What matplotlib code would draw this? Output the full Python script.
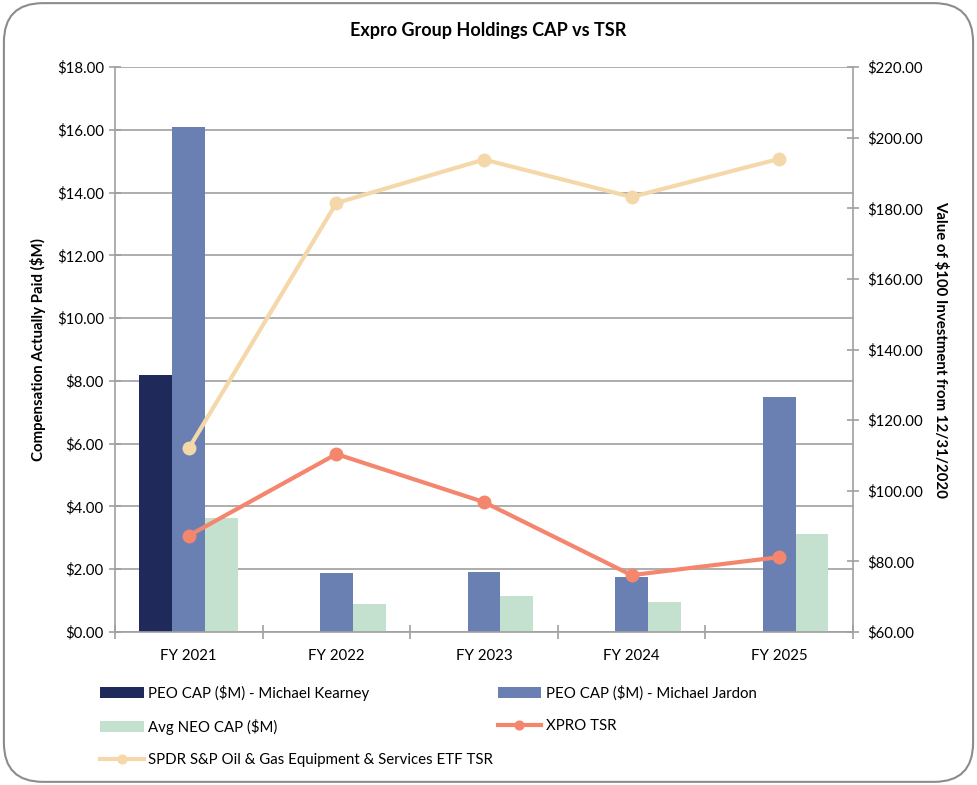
import numpy as np
import matplotlib
matplotlib.use('Agg')
import matplotlib.pyplot as plt
from matplotlib.patches import FancyBboxPatch

plt.rcParams['font.family'] = ['Lato', 'DejaVu Sans']

# 数据
years = ['FY 2021', 'FY 2022', 'FY 2023', 'FY 2024', 'FY 2025']
kearney = [8.20, np.nan, np.nan, np.nan, np.nan]
jardon = [16.10, 1.88, 1.90, 1.76, 7.50]
neo = [3.62, 0.89, 1.15, 0.95, 3.11]
xpro_tsr = [87.3, 110.4, 96.8, 76.1, 81.2]
spdr_tsr = [112.0, 181.5, 193.8, 183.2, 194.0]

c_kearney = '#1F2A5A'
c_jardon = '#6A80B2'
c_neo = '#C4E0CF'
c_xpro = '#F4866E'
c_spdr = '#F5D8AA'
c_grid = '#A0A0A0'

fig = plt.figure(figsize=(9.77, 7.85), dpi=100)
fig.patches.append(FancyBboxPatch((0.004, 0.004), 0.992, 0.992, boxstyle='round,pad=0,rounding_size=0.04',
                                  transform=fig.transFigure, fc='none', ec='#8C8C8C', lw=1.5,
                                  mutation_aspect=977 / 785, zorder=-1))

ax = fig.add_axes([0.1177, 0.1949, 0.7553, 0.7197])
x = np.arange(len(years))
w = 0.223
ax.bar(x - w, kearney, w, color=c_kearney, label='PEO CAP ($M) - Michael Kearney', zorder=2)
ax.bar(x, jardon, w, color=c_jardon, label='PEO CAP ($M) - Michael Jardon', zorder=2)
ax.bar(x + w, neo, w, color=c_neo, label='Avg NEO CAP ($M)', zorder=2)

ax.set_xlim(-0.5, 4.5)
ax.set_ylim(0, 18)
ax.set_yticks(np.arange(0, 19, 2))
ax.set_yticklabels([f'${v:.2f}' for v in np.arange(0, 19, 2)], fontsize=10.8)
ax.set_xticks(x)
ax.set_xticklabels(years, fontsize=10.8)
ax.set_xticks(np.arange(-0.5, 5, 1), minor=True)
ax.tick_params(axis='x', which='major', length=0, pad=12)
ax.tick_params(axis='x', which='minor', length=10, direction='inout', color=c_grid, width=1.2)
ax.tick_params(axis='y', length=8, direction='inout', color=c_grid, width=1.2, pad=4)
ax.yaxis.grid(True, color=c_grid, lw=1.2, zorder=0)
ax.set_axisbelow(True)
for s in ['top', 'right']:
    ax.spines[s].set_visible(False)
for s in ['left', 'bottom']:
    ax.spines[s].set_color(c_grid)
    ax.spines[s].set_linewidth(1.2)
ax.set_ylabel('Compensation Actually Paid ($M)', fontsize=10.8, fontweight='bold', labelpad=8)

ax2 = ax.twinx()
ax2.plot(x, xpro_tsr, color=c_xpro, lw=3, marker='o', ms=9, label='XPRO TSR', zorder=3)
ax2.plot(x, spdr_tsr, color=c_spdr, lw=3, marker='o', ms=9,
         label='SPDR S&P Oil & Gas Equipment & Services ETF TSR', zorder=3)
ax2.set_ylim(60, 220)
ax2.set_yticks(np.arange(60, 221, 20))
ax2.set_yticklabels([f'${v:.2f}' for v in np.arange(60, 221, 20)], fontsize=10.8)
ax2.tick_params(axis='y', length=8, direction='inout', color=c_grid, width=1.2, pad=6)
for s in ['top', 'left', 'bottom']:
    ax2.spines[s].set_visible(False)
ax2.spines['right'].set_color(c_grid)
ax2.spines['right'].set_linewidth(1.2)
ax2.set_ylabel('Value of $100 Investment from 12/31/2020', fontsize=10.8, fontweight='bold',
               rotation=270, labelpad=18)

fig.text(0.4995, 0.961, 'Expro Group Holdings CAP vs TSR', ha='center', va='center',
         fontsize=13, fontweight='bold')

h1, l1 = ax.get_legend_handles_labels()
h2, l2 = ax2.get_legend_handles_labels()
handles = [h1[0], h1[2], h2[1], h1[1], h2[0]]
labels = [l1[0], l1[2], l2[1], l1[1], l2[0]]
fig.legend(handles, labels, ncol=2, loc='upper left', bbox_to_anchor=(0.095, 0.137),
           frameon=False, fontsize=10.8, handlelength=2.9, handletextpad=0.3,
           columnspacing=0.3, labelspacing=1.2, borderpad=0, markerscale=0.7)

fig.savefig('out.png', dpi=100)
